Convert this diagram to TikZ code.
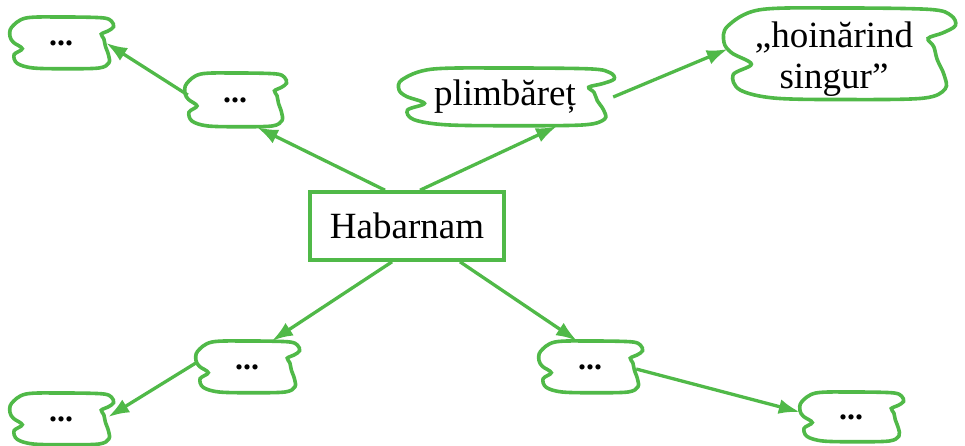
\documentclass[tikz,border=0pt]{standalone}
\usepackage{fontspec}
\setmainfont{Liberation Serif}
\usetikzlibrary{arrows.meta}
\definecolor{mapgreen}{RGB}{80,185,72}

% wavy cloud node: [outline offset], name, position, half width, half height, text
\newcommand{\wavynode}[6][]{%
  \node[cloudtext, minimum width=2*#4, minimum height=2*#5] (#2) at #3 {#6};
  \begin{scope}[shift={(#2.center)}, #1, x=#4, y=#5]
    \draw[cloudedge] plot[smooth cycle, tension=0.55] coordinates {
      (-0.69,0.96) (-0.97,0.6) (-1.0,0.25) (-0.93,0.02) (-0.76,-0.22) (-0.92,-0.45)
      (-0.86,-0.78) (-0.55,-0.96) (0.1,-0.99) (0.75,-0.96) (0.94,-0.76) (0.93,-0.45)
      (0.87,-0.12) (0.84,0.16) (0.79,0.34) (0.92,0.46) (1.03,0.62) (0.99,0.84)
      (0.8,0.97) (0.0,1.0)};
  \end{scope}}
\newcommand{\dotstext}{\bfseries\fontsize{32}{32}\selectfont...}

\begin{document}
\begin{tikzpicture}[x=1pt, y=-1pt,
    cloudtext/.style={inner sep=0pt, font=\fontsize{37}{41}\selectfont, align=center},
    cloudedge/.style={draw=mapgreen, line width=3.6pt},
    centerbox/.style={draw=mapgreen, line width=3.6pt, inner sep=0pt,
      minimum width=194pt, minimum height=68pt, font=\fontsize{37}{40}\selectfont},
    link/.style={draw=mapgreen, line width=3.3pt, -{Latex[length=21pt,width=15pt]}}]
  \useasboundingbox (0,0) rectangle (965,445);

  % centre
  \node[centerbox] (habarnam) at (407,226) {Habarnam};

  % upper branches
  \wavynode{plimbaret}{(505,97)}{106pt}{29pt}{plimbăreț}
  \wavynode[xshift=4pt, yshift=5pt]{hoinarind}{(834,59)}{114pt}{46pt}{„hoinărind\\singur”}
  \wavynode{dotsB}{(235,100)}{50pt}{27pt}{\dotstext}
  \wavynode{dotsA}{(61,43)}{51pt}{26pt}{\dotstext}

  % lower branches
  \wavynode{dotsC}{(247,367)}{51pt}{26pt}{\dotstext}
  \wavynode{dotsE}{(61,419)}{51pt}{26pt}{\dotstext}
  \wavynode{dotsD}{(590,367)}{51pt}{26pt}{\dotstext}
  \wavynode{dotsF}{(851,417)}{51pt}{25pt}{\dotstext}

  % connectors
  \draw[link] ([xshift=-22pt]habarnam.north) -- ([xshift=22pt]dotsB.south);
  \draw[link] ([xshift=13pt]habarnam.north) -- ([xshift=52pt]plimbaret.south);
  \draw[link] ([xshift=2pt]plimbaret.east) -- ([xshift=8pt,yshift=10pt]hoinarind.west);
  \draw[link] ([xshift=3pt,yshift=5pt]dotsB.west) -- ([xshift=-6pt]dotsA.east);
  \draw[link] ([xshift=-15pt]habarnam.south) -- ([xshift=25pt]dotsC.north);
  \draw[link] ([xshift=53pt]habarnam.south) -- ([xshift=-13pt]dotsD.north);
  \draw[link] ([yshift=4pt]dotsC.west) -- ([xshift=-4pt,yshift=2pt]dotsE.east);
  \draw[link] ([xshift=-5pt,yshift=-2pt]dotsD.east) -- ([yshift=5pt]dotsF.west);
\end{tikzpicture}
\end{document}
